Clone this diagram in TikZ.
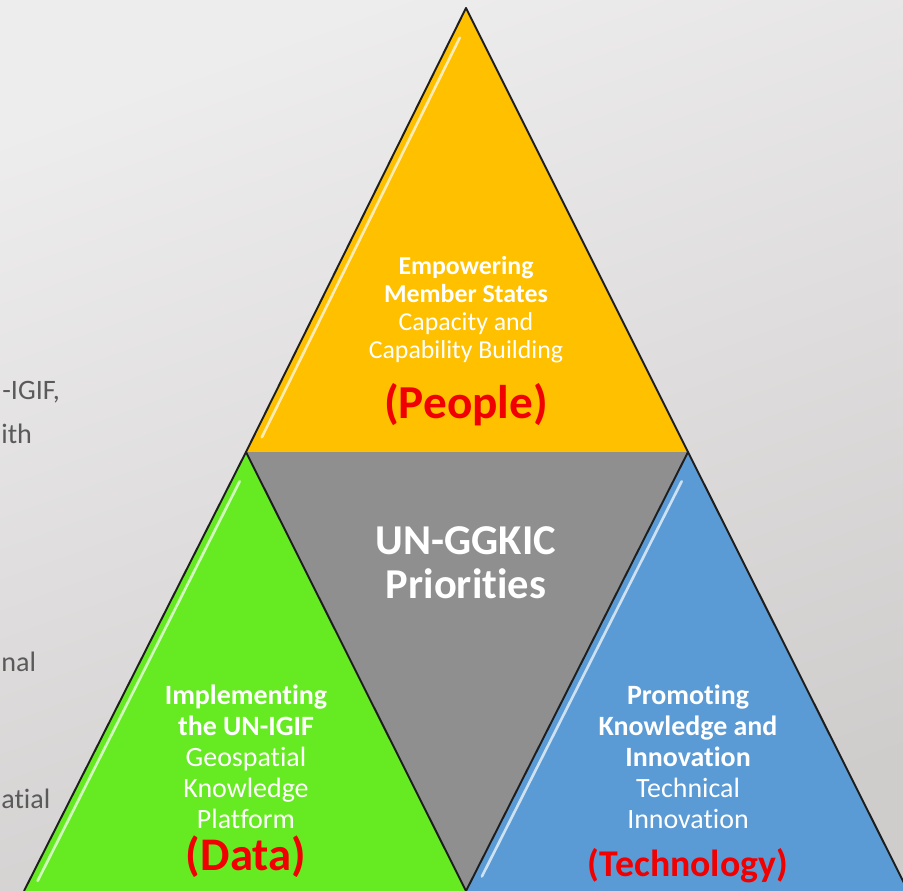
\documentclass[tikz,border=0pt]{standalone}
\usepackage{fontspec}
\setmainfont{Carlito}[Ligatures=NoCommon]
\usetikzlibrary{calc}

\definecolor{bgtop}{HTML}{EEEDED}
\definecolor{bgbot}{HTML}{CFCCCC}
\definecolor{peoplecol}{HTML}{FFC000}
\definecolor{datacol}{HTML}{66EB22}
\definecolor{techcol}{HTML}{5B9BD5}
\definecolor{corecol}{HTML}{8F8F8F}
\definecolor{edgecol}{HTML}{1E1E1E}
\definecolor{tagred}{HTML}{F00000}
\definecolor{sidetext}{HTML}{5A5A5A}

\begin{document}
\begin{tikzpicture}[x=0.02cm, y=-0.02cm, line join=round,
  outline/.style={draw=edgecol, line width=1.1pt},
  gloss/.style={draw=white, line width=1.5pt, line cap=round, opacity=0.7},
  blurb/.style={text=white, align=center, inner sep=0pt,
    font=\fontsize{15.9}{17.6}\selectfont},
  tag/.style={text=tagred, inner sep=0pt, font=\bfseries\fontsize{26.6}{30}\selectfont},
  side/.style={text=sidetext, anchor=base west, inner sep=0pt,
    font=\fontsize{16}{18}\selectfont}]

  % Frame and background
  \useasboundingbox (0,0) rectangle (903,891);
  \clip (0,0) rectangle (903,891);
  \shade[top color=bgtop, bottom color=bgbot, shading angle=20] (0,0) rectangle (903,891);

  % Corners of the four triangles
  \coordinate (top) at (466,8);
  \coordinate (left) at (246,452);
  \coordinate (right) at (688,452);
  \coordinate (bottom) at (466,891);
  \coordinate (left-base) at (24,891);
  \coordinate (right-base) at (908,891);

  % Left margin text, cut by the frame
  \node[side] (side-1) at (2,400) {-IGIF,};
  \node[side] (side-2) at (1,444) {ith};
  \node[side] (side-3) at (1,671) {nal};
  \node[side] (side-4) at (1,808) {atial};

  % Fill the triangles
  \fill[corecol] (left) -- (right) -- (bottom) -- cycle;
  \fill[peoplecol] (top) -- (left) -- (right) -- cycle;
  \fill[datacol] (left) -- (left-base) -- (bottom) -- cycle;
  \fill[techcol] (right) -- (bottom) -- (right-base) -- cycle;

  % Outlines of the three outer triangles
  \draw[outline] (left) -- (top) -- (right);
  \draw[outline] (left-base) -- (left) -- (bottom) -- (right) -- (right-base);

  % Glossy streaks along the left edges
  \draw[gloss] ($(top)!0.06!(left) + (7,3)$) -- ($(top)!0.96!(left) + (7,3)$);
  \draw[gloss] ($(left)!0.06!(left-base) + (7,3)$) -- ($(left)!0.97!(left-base) + (7,3)$);
  \draw[gloss] ($(right)!0.06!(bottom) + (7,3)$) -- ($(right)!0.96!(bottom) + (7,3)$);

  % People
  \node[blurb, font=\fontsize{14.7}{15.9}\selectfont] (people-txt) at (466,310)
    {\textbf{Empowering}\\\textbf{Member States}\\Capacity and\\Capability Building};
  \node[tag, font=\bfseries\fontsize{26.9}{30}\selectfont] (people) at (466,405) {(People)};

  % Centre
  \node[text=white, align=center, inner sep=0pt,
    font=\bfseries\fontsize{24.2}{25}\selectfont] (core) at (466,563) {UN-GGKIC\\Priorities};

  % Data
  \node[blurb] (data-txt) at (246,757)
    {\textbf{Implementing}\\\textbf{the UN-IGIF}\\Geospatial\\Knowledge\\Platform};
  \node[tag] (data) at (246,857) {(Data)};

  % Technology
  \node[blurb] (tech-txt) at (688,757)
    {\textbf{Promoting}\\\textbf{Knowledge and}\\\textbf{Innovation}\\Technical\\Innovation};
  \node[tag, font=\bfseries\fontsize{21.5}{24}\selectfont] (tech) at (688,866) {(Technology)};

\end{tikzpicture}
\end{document}
